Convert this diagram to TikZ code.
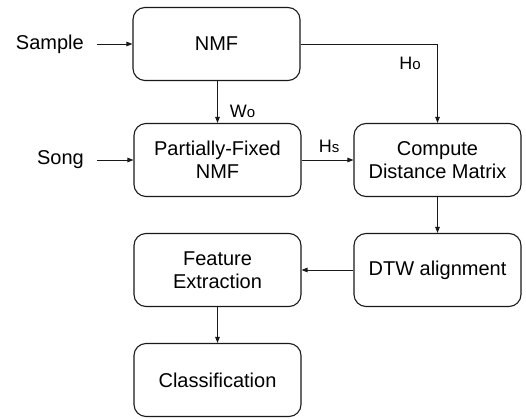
\documentclass[tikz,border=0pt]{standalone}
\usepackage{fontspec}
\setmainfont{Liberation Sans}
\usetikzlibrary{arrows.meta}
\begin{document}
\begin{tikzpicture}[x=1pt,y=-1pt,
  stepbox/.style={draw=black!90, line width=1.1pt, rounded corners=12pt,
    minimum width=167pt, minimum height=73pt, align=center,
    font=\fontsize{20}{23}\selectfont, inner sep=0pt},
  intext/.style={font=\fontsize{20}{23}\selectfont, inner sep=0pt, anchor=east},
  lbl/.style={font=\fontsize{18}{18}\selectfont, inner sep=0pt},
  arr/.style={draw=black!90, line width=0.9pt, -{Triangle[length=6pt,width=4.5pt]}}
]
\useasboundingbox (0,0) rectangle (526,419);
\node[stepbox] (nmf) at (216.5,44) {NMF};
\node[stepbox] (pf) at (217.5,160) {Partially-Fixed\\NMF};
\node[stepbox] (cdm) at (437.5,160) {Compute\\Distance Matrix};
\node[stepbox] (dtw) at (437.5,270) {DTW alignment};
\node[stepbox] (fe) at (217.5,270) {Feature\\Extraction};
\node[stepbox] (cls) at (217.5,380) {Classification};
\node[intext] (sample) at (84,44) {Sample};
\node[intext] (song) at (84,160) {Song};
\draw[arr, shorten <=13pt] (sample.east) -- (nmf.west);
\draw[arr, shorten <=13pt] (song.east) -- (pf.west);
\draw[arr] (nmf.east) -| (cdm.north);
\draw[arr] (nmf.south -| pf.north) -- (pf.north);
\draw[arr] (pf.east) -- (cdm.west);
\draw[arr] (cdm.south) -- (dtw.north);
\draw[arr] (dtw.west) -- (fe.east);
\draw[arr] (fe.south) -- (cls.north);
\node[lbl] (h0) at (410,63) {H{\fontsize{15}{15}\selectfont o}};
\node[lbl] (w0) at (242.5,111) {W{\fontsize{15}{15}\selectfont o}};
\node[lbl] (hs) at (329,146.5) {H{\fontsize{15}{15}\selectfont s}};
\end{tikzpicture}
\end{document}
